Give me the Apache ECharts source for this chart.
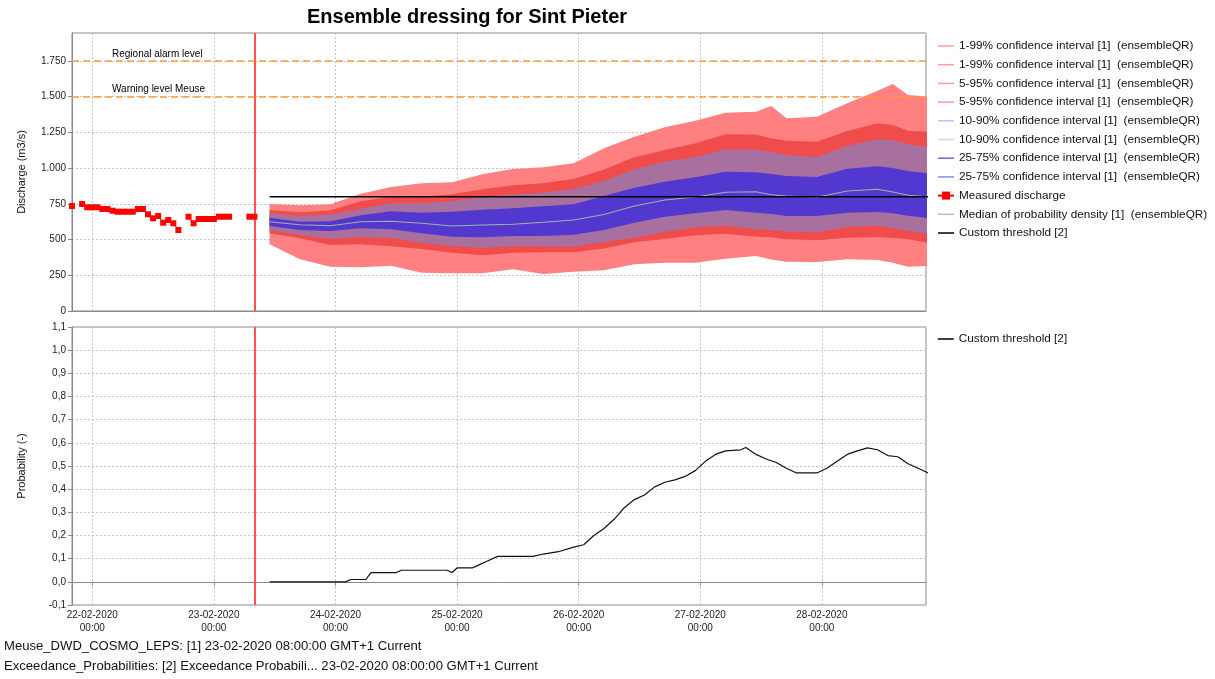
<!DOCTYPE html>
<html><head><meta charset="utf-8">
<script src="https://cdn.jsdelivr.net/npm/echarts@6.0.0/dist/echarts.min.js"></script>
<style>html,body{margin:0;padding:0;background:#fff}#c{width:1215px;height:679px}</style>
</head><body><div id="c"></div>
<script>
// ---------- texts ----------
const titleText = 'Ensemble dressing for Sint Pieter';
const footer1 = 'Meuse_DWD_COSMO_LEPS: [1] 23-02-2020 08:00:00 GMT+1 Current';
const footer2 = 'Exceedance_Probabilities: [2] Exceedance Probabili... 23-02-2020 08:00:00 GMT+1 Current';
const yNameTop = 'Discharge (m3/s)';
const yNameBottom = 'Probability (-)';
const alarmLabel = 'Regional alarm level';
const warningLabel = 'Warning level Meuse';
const name1 = '1-99% confidence interval [1]  (ensembleQR)';
const name5 = '5-95% confidence interval [1]  (ensembleQR)';
const name10 = '10-90% confidence interval [1]  (ensembleQR)';
const name25 = '25-75% confidence interval [1]  (ensembleQR)';
const nameMeasured = 'Measured discharge';
const nameMedian = 'Median of probability density [1]  (ensembleQR)';
const nameThreshold = 'Custom threshold [2]';

// ---------- levels ----------
const alarmLevel = 1750;
const warningLevel = 1500;
const thresholdValue = 800;

// ---------- measured discharge, hourly from 21-02-2020 20:00 ----------
const measured = [735,null,749,726,726,726,714,714,702,695,695,695,695,714,714,677,649,665,618,637,614,567,null,660,614,644,644,644,644,660,660,660,null,null,null,660,660];

// ---------- forecast quantiles, hours after 23-02-2020 11:00 ----------
const fcHours = [0,6,12,18,24,30,36,42,48,54,60,66,72,78,84,90,96,99,102,108,114,120,123,126,130];
const q99 = [749,740,747,821,868,894,901,957,994,1006,1034,1140,1220,1286,1332,1388,1395,1435,1350,1360,1454,1542,1589,1512,1500];
const q95 = [707,691,705,768,800,800,817,852,880,894,924,990,1076,1127,1174,1237,1235,1210,1192,1185,1260,1314,1302,1262,1255];
const q90 = [684,667,674,716,754,754,770,796,814,828,854,910,992,1045,1076,1132,1128,1111,1092,1078,1157,1204,1195,1167,1146];
const q75 = [653,625,628,670,698,688,695,709,719,733,747,805,863,905,936,975,972,959,945,938,996,1013,1001,980,964];
const q50 = [625,604,597,625,628,614,595,602,607,621,637,675,735,777,798,831,835,814,805,796,840,852,833,810,800];
const q25 = [595,567,560,579,572,544,520,516,525,525,534,567,618,660,684,707,688,679,665,665,688,693,684,667,649];
const q10 = [567,532,504,516,511,478,455,441,455,453,450,483,513,555,586,597,572,567,555,553,588,597,581,562,539];
const q05 = [544,509,462,467,453,434,408,390,408,411,411,437,481,504,530,541,520,516,502,495,513,518,511,502,478];
const q01 = [467,362,310,306,317,268,264,264,292,259,275,285,327,338,338,366,385,360,345,343,362,357,338,310,315];

const thresholdHours = [0,130];

// ---------- exceedance probability, hours after 23-02-2020 11:00 ----------
const probHours = [0,15,16,19,20,25,26,35,36,37,40,41,43,45,52,54,57,60,62,64,66,68,70,72,74,76,78,80,82,84,86,88,90,93,94,96,98,100,102,104,108,110,112,114,116,118,120,122,124,126,128,130];
const probValues = [0,0,0.01,0.01,0.04,0.04,0.05,0.05,0.04,0.06,0.06,0.07,0.09,0.11,0.11,0.12,0.13,0.15,0.16,0.2,0.23,0.27,0.32,0.355,0.375,0.41,0.43,0.44,0.455,0.48,0.52,0.55,0.565,0.57,0.58,0.55,0.53,0.515,0.49,0.47,0.47,0.49,0.52,0.55,0.565,0.578,0.57,0.545,0.54,0.51,0.49,0.47];

// ---------- time frame ----------
const H = 3600000;
const T0 = new Date(2020,1,23,8,0).getTime();
const fcStart = new Date(2020,1,23,11,0).getTime();
const measStart = new Date(2020,1,21,20,0).getTime();
const xMin = new Date(2020,1,21,20,0).getTime();
const xMax = xMin + 168.55*H;

const FONT = 'Liberation Sans';
const pts = (hours, vals, base) => hours.map((h,i)=>[base + h*H, vals[i]]);
const diff = (a,b) => a.map((v,i)=>v - b[i]);

const bands = [
  {id:'b1', name:name1, lo:q01, hi:q99, fill:'#ff8080', leg1:'#ff9a9a', leg2:'#ff9a9a'},
  {id:'b5', name:name5, lo:q05, hi:q95, fill:'#f14c4c', leg1:'#ff9a9a', leg2:'#ff9a9a'},
  {id:'b10', name:name10, lo:q10, hi:q90, fill:'#a8709f', leg1:'#b8c4ff', leg2:'#cad6f2'},
  {id:'b25', name:name25, lo:q25, hi:q75, fill:'#5338d0', leg1:'#6464f4', leg2:'#8c8cff'}
];

const hideSym = {opacity:0};
const series = [];
const legendData = [];
bands.forEach(b=>{
  series.push({type:'line', name:b.name, stack:b.id, data:pts(fcHours,b.lo,fcStart), symbol:'none',
    lineStyle:{opacity:0, color:b.leg1}, itemStyle:{color:b.leg1}, silent:true, xAxisIndex:0, yAxisIndex:0, z:2});
  series.push({type:'line', name:b.name+' ', stack:b.id, data:pts(fcHours,diff(b.hi,b.lo),fcStart), symbol:'none',
    lineStyle:{opacity:0, color:b.leg2}, itemStyle:{color:b.leg2}, areaStyle:{color:b.fill, opacity:1}, silent:true, xAxisIndex:0, yAxisIndex:0, z:2});
  legendData.push({name:b.name, lineStyle:{color:b.leg1, opacity:1, width:1.5}, itemStyle:hideSym});
  legendData.push({name:b.name+' ', lineStyle:{color:b.leg2, opacity:1, width:1.5}, itemStyle:hideSym});
});

series.push({type:'line', name:nameMedian, data:pts(fcHours,q50,fcStart), symbol:'none',
  lineStyle:{color:'#a3b0a3', width:1.1}, itemStyle:{color:'#b8b8b8'}, xAxisIndex:0, yAxisIndex:0, z:3});
series.push({type:'line', name:nameThreshold, data:pts(thresholdHours,[thresholdValue,thresholdValue],fcStart), symbol:'none',
  lineStyle:{color:'#000', width:1.5}, itemStyle:{color:'#000'}, xAxisIndex:0, yAxisIndex:0, z:4});
series.push({type:'line', name:nameMeasured, data:measured.map((v,i)=>[measStart + i*H, v]),
  symbol:'rect', symbolSize:6, showSymbol:true, connectNulls:false,
  lineStyle:{color:'#ff0000', width:1}, itemStyle:{color:'#ff0000'}, xAxisIndex:0, yAxisIndex:0, z:5,
  markLine:{silent:true, symbol:['none','none'], animation:false, data:[
    {xAxis:T0, lineStyle:{color:'#ff5252', width:2, type:'solid'}, label:{show:false}},
    {yAxis:alarmLevel, lineStyle:{color:'#ff9a3c', width:1.5, type:[7,4]},
      label:{show:true, position:'insideStartTop', formatter:alarmLabel, padding:[0,0,0,38], distance:2, color:'#000', fontSize:10, fontFamily:FONT}},
    {yAxis:warningLevel, lineStyle:{color:'#ff9a3c', width:1.5, type:[7,4]},
      label:{show:true, position:'insideStartTop', formatter:warningLabel, padding:[0,0,0,38], distance:2, color:'#000', fontSize:10, fontFamily:FONT}}
  ]}});
legendData.push({name:nameMeasured});
legendData.push({name:nameMedian, lineStyle:{color:'#bcbcbc', width:1.5}, itemStyle:hideSym});
legendData.push({name:nameThreshold, lineStyle:{width:1.5}, itemStyle:hideSym});

series.push({type:'line', name:nameThreshold, data:pts(probHours,probValues,fcStart), symbol:'none',
  lineStyle:{color:'#111', width:1.2}, itemStyle:{color:'#000'}, xAxisIndex:1, yAxisIndex:1, z:4,
  markLine:{silent:true, symbol:['none','none'], animation:false, data:[
    {xAxis:T0, lineStyle:{color:'#ff5252', width:2, type:'solid'}, label:{show:false}}
  ]}});

const pad = n => (n<10?'0':'') + n;
const dateLabel = v => {
  const d = new Date(v);
  if (d.getHours()!==0 || d.getMinutes()!==0) return '';
  return pad(d.getDate())+'-'+pad(d.getMonth()+1)+'-'+d.getFullYear()+'\n'+pad(d.getHours())+':'+pad(d.getMinutes());
};
const splitStyle = {show:true, lineStyle:{color:'#c4c4c4', type:[2,2], width:1}};
const axisLineStyle = {show:true, lineStyle:{color:'#8a8a8a', width:1}};

const xCommon = {type:'time', min:xMin, max:xMax, minInterval:24*H, maxInterval:24*H,
  splitLine:splitStyle, axisLine:axisLineStyle};

const legendText = {fontSize:11.75, color:'#111', fontFamily:FONT, lineHeight:14};

const option = {
  animation:false,
  backgroundColor:'#fff',
  textStyle:{fontFamily:FONT},
  title:[
    {text:titleText, left:462, top:2, textAlign:'center', textStyle:{fontSize:20, fontWeight:'bold', color:'#000', fontFamily:FONT}},
    {text:footer1, left:-1, top:635, textStyle:{fontSize:13.1, fontWeight:'normal', color:'#111', fontFamily:FONT}},
    {text:footer2, left:-1, top:655, textStyle:{fontSize:13.1, fontWeight:'normal', color:'#111', fontFamily:FONT}}
  ],
  legend:[
    {orient:'vertical', left:937, top:39, padding:0, itemWidth:16, itemHeight:10, itemGap:4.7,
      textStyle:legendText, data:legendData, selectedMode:false},
    {orient:'vertical', left:937, top:332, padding:0, itemWidth:16, itemHeight:10, itemGap:4.7,
      textStyle:legendText, data:[{name:nameThreshold, lineStyle:{width:1.5}, itemStyle:hideSym}], selectedMode:false}
  ],
  grid:[
    {left:72, right:289, top:33, height:278, show:true, borderColor:'#8a8a8a', borderWidth:1, backgroundColor:'#fff'},
    {left:72, right:289, top:327, height:278, show:true, borderColor:'#8a8a8a', borderWidth:1, backgroundColor:'#fff'}
  ],
  xAxis:[
    Object.assign({gridIndex:0, axisLabel:{show:false}, axisTick:{show:false}}, xCommon),
    Object.assign({gridIndex:1, axisTick:{show:true, length:4, lineStyle:{color:'#8a8a8a'}},
      axisLabel:{show:true, formatter:dateLabel, fontSize:10, color:'#222', lineHeight:13, margin:4, fontFamily:FONT, hideOverlap:false}}, xCommon)
  ],
  yAxis:[
    {type:'value', gridIndex:0, min:0, max:1946, interval:250,
      name:yNameTop, nameLocation:'middle', nameGap:45, nameTextStyle:{fontSize:11, color:'#111', fontFamily:FONT},
      axisLine:axisLineStyle, axisTick:{show:true, length:4, lineStyle:{color:'#8a8a8a'}}, splitLine:splitStyle,
      axisLabel:{fontSize:10, color:'#222', margin:6, fontFamily:FONT, showMaxLabel:false,
        formatter:v => (v % 250 === 0) ? String(v).replace(/\B(?=(\d{3})+(?!\d))/g,'.') : ''}},
    {type:'value', gridIndex:1, min:-0.1, max:1.1, interval:0.1,
      name:yNameBottom, nameLocation:'middle', nameGap:45, nameTextStyle:{fontSize:11, color:'#111', fontFamily:FONT},
      axisLine:axisLineStyle, axisTick:{show:true, length:4, lineStyle:{color:'#8a8a8a'}}, splitLine:splitStyle,
      axisLabel:{fontSize:10, color:'#222', margin:6, fontFamily:FONT,
        formatter:v => v.toFixed(1).replace('.',',')}}
  ],
  series:series
};
const chart = echarts.init(document.getElementById('c'), null, {renderer:'canvas'});
chart.setOption(option);
</script></body></html>
